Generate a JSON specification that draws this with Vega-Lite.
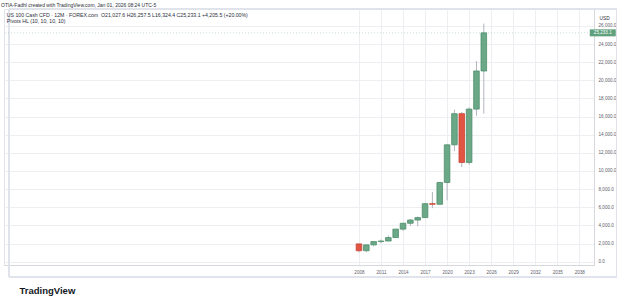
{
  "$schema": "https://vega.github.io/schema/vega-lite/v6.json",
  "width": 590,
  "height": 256,
  "autosize": {"type": "none"},
  "padding": {"left": 4, "top": 9, "right": 31, "bottom": 39},
  "background": "white",
  "title": {
    "text": "OTIA-Fadhl created with TradingView.com, Jan 01, 2026 08:24 UTC-5",
    "subtitle": [
      "\u200b\u00a0\u00a0\u00a0\u00a0US 100 Cash CFD · 12M · FOREX.com\u00a0\u00a0O21,027.6 H26,257.5 L16,324.4 C25,233.1 +4,205.5 (+20.00%)",
      "\u200b\u00a0\u00a0\u00a0\u00a0Pivots HL (10, 10, 10, 10)"
    ],
    "anchor": "start",
    "frame": "group",
    "dx": -3,
    "font": "Liberation Sans",
    "fontSize": 5,
    "fontWeight": "normal",
    "color": "#2a2e39",
    "subtitleFont": "Liberation Sans",
    "subtitleFontSize": 5.2,
    "subtitleColor": "#2a2e39",
    "subtitlePadding": 5.5,
    "subtitleLineHeight": 6,
    "offset": -16
  },
  "datasets": {
    "candles": [
      {"year": 2008, "open": 1960, "high": 1990, "low": 1030, "close": 1211},
      {"year": 2009, "open": 1211, "high": 1880, "low": 1043, "close": 1860},
      {"year": 2010, "open": 1860, "high": 2240, "low": 1700, "close": 2217},
      {"year": 2011, "open": 2217, "high": 2440, "low": 2030, "close": 2278},
      {"year": 2012, "open": 2278, "high": 2880, "low": 2280, "close": 2660},
      {"year": 2013, "open": 2660, "high": 3600, "low": 2640, "close": 3592},
      {"year": 2014, "open": 3592, "high": 4300, "low": 3400, "close": 4236},
      {"year": 2015, "open": 4236, "high": 4720, "low": 3950, "close": 4593},
      {"year": 2016, "open": 4593, "high": 4990, "low": 3900, "close": 4863},
      {"year": 2017, "open": 4863, "high": 6500, "low": 4860, "close": 6397},
      {"year": 2018, "open": 6397, "high": 7700, "low": 5900, "close": 6330},
      {"year": 2019, "open": 6330, "high": 8780, "low": 6300, "close": 8733},
      {"year": 2020, "open": 8733, "high": 12930, "low": 6770, "close": 12888},
      {"year": 2021, "open": 12888, "high": 16770, "low": 12200, "close": 16320},
      {"year": 2022, "open": 16320, "high": 16500, "low": 10440, "close": 10940},
      {"year": 2023, "open": 10940, "high": 17000, "low": 10700, "close": 16826},
      {"year": 2024, "open": 16826, "high": 22130, "low": 16100, "close": 21027.6},
      {"year": 2025, "open": 21027.6, "high": 26257.5, "low": 16324.4, "close": 25233.1}
    ]
  },
  "data": {"name": "candles"},
  "config": {
    "view": {"stroke": "#e0e3eb", "strokeWidth": 1},
    "axis": {
      "labelFont": "Liberation Sans",
      "titleFont": "Liberation Sans",
      "labelFontSize": 4.6,
      "labelColor": "#5d606b",
      "labelOverlap": false,
      "gridColor": "#eceef2",
      "gridWidth": 1,
      "domainColor": "#d6d8de",
      "ticks": false
    }
  },
  "encoding": {
    "y": {
      "type": "quantitative",
      "scale": {"domain": [-364, 27861], "nice": false, "zero": false},
      "axis": {
        "orient": "right",
        "tickCount": 14,
        "format": ",.1f",
        "labelAlign": "left",
        "labelPadding": 4,
        "labelBaseline": "middle",
        "labelOverlap": false,
        "labelSeparation": 0,
        "labelFontSize": 4.6,
        "grid": true,
        "title": "USD",
        "titleAngle": 0,
        "titleX": 5,
        "titleY": 9,
        "titleAlign": "left",
        "titleBaseline": "middle",
        "titleFontSize": 4.8,
        "titleFontWeight": "normal",
        "titleColor": "#2a2e39"
      }
    }
  },
  "layer": [
    {
      "description": "outer frame around the pane and both axis strips",
      "mark": {"type": "rect", "fill": "white", "fillOpacity": 0, "stroke": "#e0e3eb", "strokeWidth": 1},
      "encoding": {
        "x": {"datum": 1960.343, "type": "quantitative"},
        "x2": {"datum": 2043.07},
        "y": {"datum": 27861, "type": "quantitative"},
        "y2": {"datum": -1687}
      }
    },
    {
      "mark": {"type": "rule", "color": "#b2b5be", "strokeWidth": 1},
      "encoding": {
        "x": {
          "field": "year",
          "type": "quantitative",
          "scale": {"domain": [1960.343, 2039.325], "nice": false, "zero": false},
          "axis": {
            "values": [2008, 2011, 2014, 2017, 2020, 2023, 2026, 2029, 2032, 2035, 2038],
            "format": "d",
            "labelPadding": 4,
            "labelOverlap": false,
            "grid": true,
            "title": "TradingView",
            "titleAnchor": "start",
            "titleAlign": "left",
            "titleX": 15,
            "titleY": 25,
            "titleBaseline": "middle",
            "titleFontSize": 9.5,
            "titleFontWeight": "bold",
            "titleColor": "#131722"
          }
        },
        "y": {"field": "low", "type": "quantitative"},
        "y2": {"field": "high"}
      }
    },
    {
      "mark": {"type": "bar", "width": 5.6, "strokeWidth": 0.8},
      "encoding": {
        "x": {"field": "year", "type": "quantitative"},
        "y": {"field": "open", "type": "quantitative"},
        "y2": {"field": "close"},
        "fill": {
          "condition": {"test": "datum.close >= datum.open", "value": "#6aa887"},
          "value": "#e05543"
        },
        "stroke": {
          "condition": {"test": "datum.close >= datum.open", "value": "#4f8f6c"},
          "value": "#c94535"
        }
      }
    },
    {
      "description": "last price line",
      "transform": [{"filter": "datum.year == 2025"}],
      "mark": {"type": "rule", "color": "#6aa887", "strokeWidth": 1, "strokeDash": [1, 2], "opacity": 0.35},
      "encoding": {
        "y": {"field": "close", "type": "quantitative"}
      }
    },
    {
      "description": "last price badge on the price scale",
      "transform": [{"filter": "datum.year == 2025"}],
      "mark": {"type": "tick", "orient": "horizontal", "size": 26, "thickness": 7, "color": "#5fa07d", "opacity": 1},
      "encoding": {
        "x": {"datum": 2041.2, "type": "quantitative"},
        "y": {"field": "close", "type": "quantitative"}
      }
    },
    {
      "transform": [{"filter": "datum.year == 2025"}],
      "mark": {"type": "text", "font": "Liberation Sans", "fontSize": 4.6, "color": "white", "align": "center", "baseline": "middle"},
      "encoding": {
        "x": {"datum": 2041.2, "type": "quantitative"},
        "y": {"field": "close", "type": "quantitative"},
        "text": {"field": "close", "type": "quantitative", "format": ",.1f"}
      }
    }
  ]
}
